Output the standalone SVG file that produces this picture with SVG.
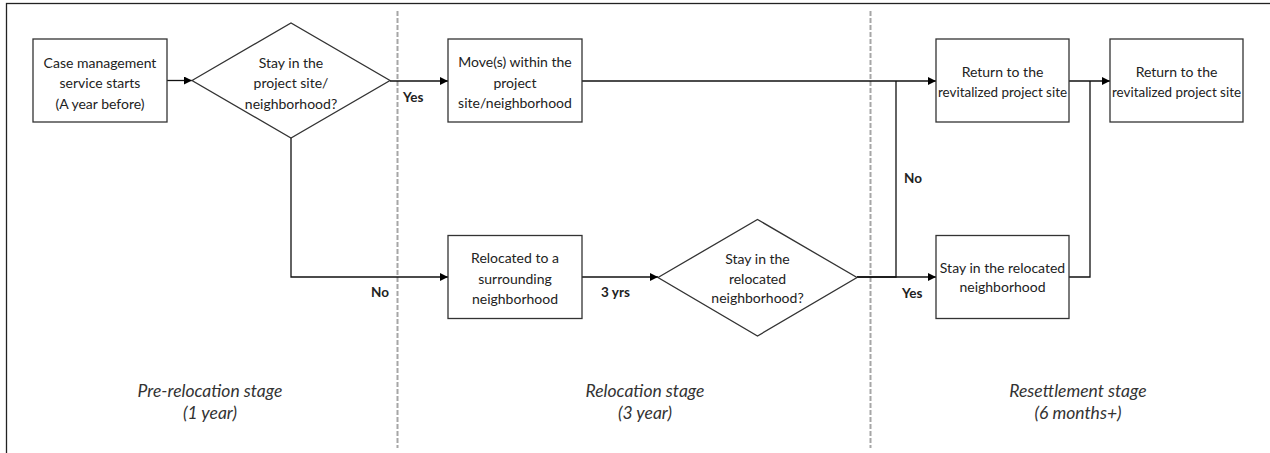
<svg xmlns="http://www.w3.org/2000/svg" width="1270" height="453" viewBox="0 0 1270 453">
  <style>
    .node rect, .node polygon { fill: #ffffff; stroke: #333333; stroke-width: 1.3; }
    .t { font-family: Lato, "Liberation Sans", sans-serif; font-size: 14px; fill: #222222; text-anchor: middle; dominant-baseline: central; }
    .lbl { font-family: Lato, "Liberation Sans", sans-serif; font-size: 13.5px; font-weight: bold; fill: #222222; dominant-baseline: central; }
    .stage { font-family: Lato, "Liberation Sans", sans-serif; font-size: 17.5px; font-style: italic; fill: #333333; text-anchor: middle; dominant-baseline: central; }
    .conn { fill: none; stroke: #111111; stroke-width: 1.3; }
    .divider { stroke: #a6a6a6; stroke-width: 2; stroke-dasharray: 5 2; }
  </style>
  <defs>
    <marker id="arr" viewBox="0 0 10 10" refX="10" refY="5" markerWidth="8" markerHeight="8" markerUnits="userSpaceOnUse" orient="auto">
      <path d="M0,0 L10,5 L0,10 z" fill="#000000"/>
    </marker>
  </defs>
  <rect x="0" y="0" width="1270" height="453" fill="#ffffff"/>
  <rect x="6.5" y="3.5" width="1300" height="470" fill="none" stroke="#222222" stroke-width="1.3"/>

  <g id="dividers">
    <line class="divider" x1="397.5" y1="11" x2="397.5" y2="448"/>
    <line class="divider" x1="870.5" y1="11" x2="870.5" y2="448"/>
  </g>

  <g id="connectors">
    <line class="conn" x1="167" y1="80.5" x2="192" y2="80.5" marker-end="url(#arr)"/>
    <line class="conn" x1="390" y1="81" x2="448" y2="81" marker-end="url(#arr)"/>
    <polyline class="conn" points="291,138 291,277 448,277" marker-end="url(#arr)"/>
    <line class="conn" x1="582" y1="277" x2="658" y2="277" marker-end="url(#arr)"/>
    <line class="conn" x1="582" y1="81" x2="936" y2="81" marker-end="url(#arr)"/>
    <line class="conn" x1="857" y1="277" x2="936" y2="277" marker-end="url(#arr)"/>
    <polyline class="conn" points="857,277 896,277 896,81"/>
    <line class="conn" x1="1069" y1="81" x2="1110" y2="81" marker-end="url(#arr)"/>
    <polyline class="conn" points="1069,277 1090,277 1090,81"/>
    <text class="lbl" x="403" y="96.5">Yes</text>
    <text class="lbl" x="371" y="292">No</text>
    <text class="lbl" x="601" y="292">3 yrs</text>
    <text class="lbl" x="904" y="178">No</text>
    <text class="lbl" x="902" y="293">Yes</text>
  </g>

  <g id="n-case" class="node">
    <rect x="33" y="39" width="134" height="83"/>
    <text class="t" x="100" y="62">Case management</text>
    <text class="t" x="100" y="82.5">service starts</text>
    <text class="t" x="100" y="103">(A year before)</text>
  </g>

  <g id="n-stay-project" class="node">
    <polygon points="192,80.5 291,23 390,80.5 291,138"/>
    <text class="t" x="291" y="62">Stay in the</text>
    <text class="t" x="291" y="82.5">project site/</text>
    <text class="t" x="291" y="103">neighborhood?</text>
  </g>

  <g id="n-move" class="node">
    <rect x="448" y="39" width="134" height="83"/>
    <text class="t" x="515" y="61.5">Move(s) within the</text>
    <text class="t" x="515" y="82">project</text>
    <text class="t" x="515" y="102">site/neighborhood</text>
  </g>

  <g id="n-relocated" class="node">
    <rect x="448" y="235.5" width="134" height="83"/>
    <text class="t" x="515" y="257.5">Relocated to a</text>
    <text class="t" x="515" y="278">surrounding</text>
    <text class="t" x="515" y="298.5">neighborhood</text>
  </g>

  <g id="n-stay-relocated" class="node">
    <polygon points="658,277.5 757.5,219.5 857,277.5 757.5,336"/>
    <text class="t" x="757.5" y="258">Stay in the</text>
    <text class="t" x="757.5" y="278">relocated</text>
    <text class="t" x="757.5" y="297.5">neighborhood?</text>
  </g>

  <g id="n-return1" class="node">
    <rect x="936" y="39" width="133" height="83"/>
    <text class="t" x="1002.5" y="71.5">Return to the</text>
    <text class="t" x="1002.5" y="91.5" textLength="129" lengthAdjust="spacingAndGlyphs">revitalized project site</text>
  </g>

  <g id="n-return2" class="node">
    <rect x="1110" y="39" width="133" height="83"/>
    <text class="t" x="1176.5" y="71.5">Return to the</text>
    <text class="t" x="1176.5" y="91.5" textLength="129" lengthAdjust="spacingAndGlyphs">revitalized project site</text>
  </g>

  <g id="n-stay-box" class="node">
    <rect x="936" y="235.5" width="133" height="83"/>
    <text class="t" x="1002.5" y="267">Stay in the relocated</text>
    <text class="t" x="1002.5" y="286.5">neighborhood</text>
  </g>

  <g id="stages">
    <text class="stage" x="210" y="390">Pre-relocation stage</text>
    <text class="stage" x="210" y="412">(1 year)</text>
    <text class="stage" x="645" y="390">Relocation stage</text>
    <text class="stage" x="645" y="412">(3 year)</text>
    <text class="stage" x="1078" y="390">Resettlement stage</text>
    <text class="stage" x="1078" y="412">(6 months+)</text>
  </g>
</svg>
